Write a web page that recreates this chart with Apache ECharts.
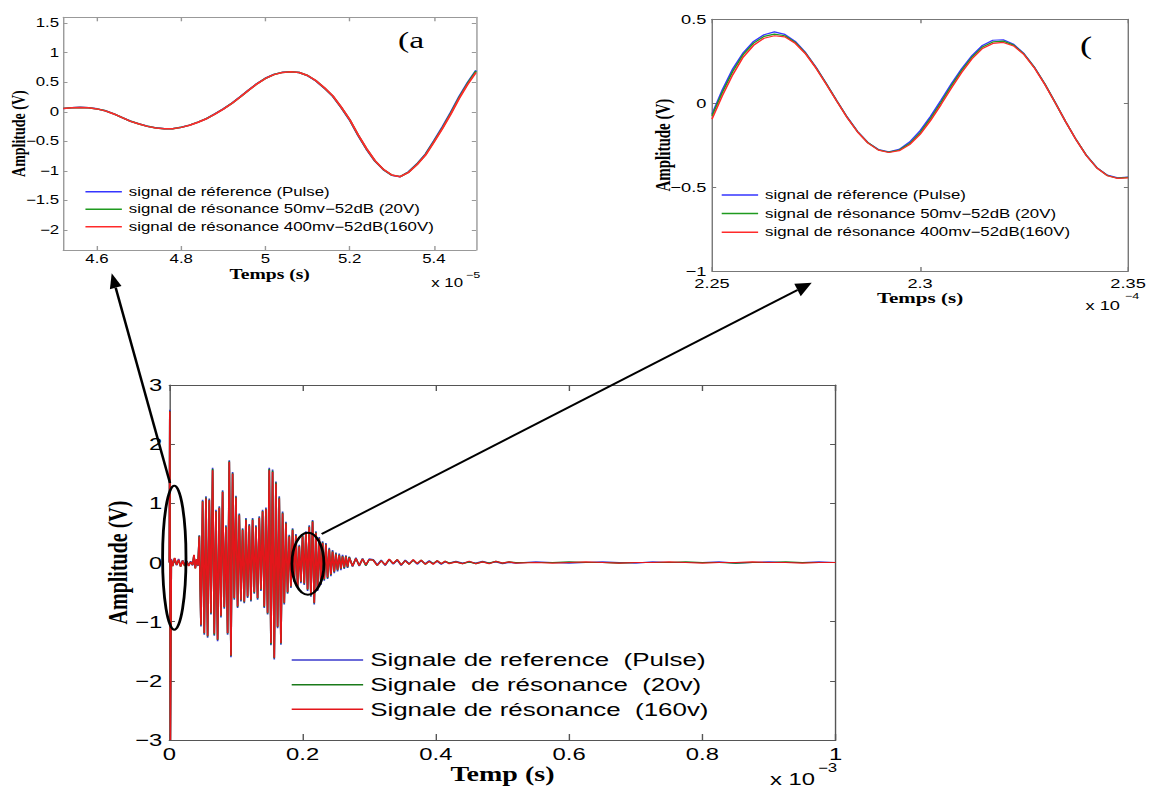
<!DOCTYPE html>
<html><head><meta charset="utf-8">
<script src="https://cdn.jsdelivr.net/npm/echarts@6/dist/echarts.min.js"></script>
<style>
html,body{margin:0;padding:0;background:#fff;overflow:hidden;}
#wrap{width:1150px;height:789px;overflow:hidden;position:relative;}
#chart{width:821px;height:789px;transform:scaleX(1.40073);transform-origin:0 0;}
</style></head>
<body><div id="wrap"><div id="chart"></div></div>
<script>
// ---------- Panel (a): zoom 4.52e-5 .. 5.5e-5 s (units of 1e-5 s) ----------
const timeA = [4.52,4.54,4.56,4.58,4.60,4.62,4.64,4.66,4.68,4.70,
  4.72,4.74,4.76,4.78,4.80,4.82,4.84,4.86,4.88,4.90,
  4.92,4.94,4.96,4.98,5.00,5.02,5.04,5.06,5.08,5.10,
  5.12,5.14,5.16,5.18,5.20,5.22,5.24,5.26,5.28,5.30,
  5.32,5.34,5.36,5.38,5.40,5.42,5.44,5.46,5.48,5.50];
const pulseA = [0.056,0.068,0.075,0.068,0.050,0.018,-0.035,-0.098,-0.160,-0.205,
  -0.245,-0.272,-0.287,-0.285,-0.262,-0.225,-0.175,-0.115,-0.035,0.050,
  0.145,0.255,0.370,0.478,0.568,0.633,0.668,0.680,0.665,0.612,
  0.522,0.400,0.262,0.070,-0.140,-0.400,-0.635,-0.835,-0.980,-1.075,
  -1.100,-1.015,-0.880,-0.715,-0.490,-0.260,-0.010,0.260,0.495,0.700];
const res20A = [0.058,0.069,0.074,0.067,0.049,0.017,-0.036,-0.099,-0.161,-0.206,
  -0.246,-0.273,-0.288,-0.286,-0.263,-0.226,-0.176,-0.117,-0.037,0.047,
  0.142,0.252,0.366,0.475,0.565,0.631,0.667,0.679,0.666,0.614,
  0.525,0.404,0.266,0.075,-0.134,-0.393,-0.628,-0.830,-0.976,-1.072,
  -1.098,-1.020,-0.888,-0.725,-0.502,-0.274,-0.026,0.243,0.480,0.688];
const res160A = [0.055,0.067,0.074,0.067,0.049,0.016,-0.037,-0.100,-0.162,-0.207,
  -0.247,-0.274,-0.289,-0.287,-0.264,-0.227,-0.177,-0.118,-0.039,0.045,
  0.140,0.250,0.364,0.473,0.564,0.630,0.666,0.678,0.666,0.615,
  0.527,0.406,0.269,0.079,-0.130,-0.389,-0.624,-0.827,-0.974,-1.071,
  -1.099,-1.025,-0.895,-0.735,-0.515,-0.288,-0.042,0.225,0.462,0.665];
const xTicksA = [4.6,4.8,5,5.2,5.4];
const yTicksA = [-2,-1.5,-1,-0.5,0,0.5,1,1.5];

// ---------- Panel (b): zoom 2.25e-4 .. 2.35e-4 s (units of 1e-4 s) ----------
const timeB = [2.25,2.2525,2.255,2.2575,2.26,2.2625,2.265,2.2675,2.27,2.2725,
  2.275,2.2775,2.28,2.2825,2.285,2.2875,2.29,2.2925,2.295,2.2975,
  2.30,2.3025,2.305,2.3075,2.31,2.3125,2.315,2.3175,2.32,2.3225,
  2.325,2.3275,2.33,2.3325,2.335,2.3375,2.34,2.3425,2.345,2.3475,2.35];
const pulseB = [-0.065,0.080,0.205,0.300,0.368,0.408,0.425,0.410,0.368,0.301,
  0.214,0.116,0.015,-0.083,-0.169,-0.235,-0.276,-0.290,-0.275,-0.231,
  -0.165,-0.080,0.016,0.114,0.205,0.284,0.344,0.375,0.378,0.351,
  0.295,0.214,0.115,0.004,-0.110,-0.217,-0.311,-0.384,-0.429,-0.445,-0.440];
const res20B = [-0.075,0.065,0.190,0.290,0.358,0.398,0.412,0.402,0.362,0.297,
  0.211,0.114,0.013,-0.085,-0.170,-0.236,-0.278,-0.292,-0.279,-0.240,
  -0.176,-0.092,0.003,0.102,0.195,0.275,0.335,0.365,0.370,0.346,
  0.292,0.212,0.114,0.003,-0.110,-0.217,-0.312,-0.385,-0.431,-0.447,-0.442];
const res160B = [-0.095,0.045,0.170,0.275,0.345,0.387,0.402,0.395,0.357,0.294,
  0.209,0.112,0.011,-0.087,-0.172,-0.238,-0.280,-0.294,-0.283,-0.247,
  -0.186,-0.104,-0.010,0.089,0.183,0.265,0.326,0.356,0.362,0.341,
  0.289,0.210,0.112,0.002,-0.111,-0.218,-0.313,-0.386,-0.432,-0.448,-0.445];
const xTicksB = [2.25,2.3,2.35];

// ---------- Main panel: 0 .. 1e-3 s (units of 1e-3 s) ----------
const timeM = [0,0.0008,0.0016,0.003,0.005,0.008,0.011,0.014,0.017,0.020,
  0.023,0.026,0.029,0.032,0.035,0.037,0.039,0.041,0.043,
  0.045,0.0475,0.05,0.0525,0.055,0.0575,0.06,0.0625,0.065,0.0675,
  0.07,0.0725,0.075,0.0775,0.08,0.0825,0.085,0.0875,0.09,0.0925,
  0.095,0.0975,0.1,0.1025,0.105,0.1075,0.11,0.1125,0.115,0.1175,
  0.12,0.1225,0.125,0.1275,0.13,0.1325,0.135,0.1375,0.14,0.1425,
  0.145,0.1475,0.15,0.1525,0.155,0.1575,0.16,0.1625,0.165,0.1675,
  0.17,0.1725,0.175,0.1775,0.18,0.1825,0.185,0.1875,0.19,0.1925,
  0.195,0.1975,0.2,0.2025,0.205,0.2075,0.21,0.2125,0.215,0.2175,
  0.22,0.2225,0.225,0.2275,0.23,0.2325,0.235,0.2375,0.24,0.2425,
  0.245,0.2475,0.25,0.2525,0.255,0.2575,0.26,0.2625,0.265,0.2675,
  0.27,
  0.275,0.28,0.285,0.29,0.295,0.30,
  0.306,0.312,0.318,0.324,0.33,0.336,0.342,0.348,0.354,0.36,
  0.366,0.372,0.378,0.384,0.39,0.396,0.402,0.408,0.414,0.42,
  0.43,0.44,0.45,0.46,0.47,0.48,0.49,0.50,0.51,0.52,
  0.55,0.575,0.6,0.625,0.65,0.675,0.7,0.725,0.75,0.775,
  0.8,0.825,0.85,0.875,0.9,0.925,0.95,0.975,1.0];
const pulseM = [0,2.58,-3.0,0.06,-0.05,0.07,-0.05,0.06,-0.06,0.04,
  -0.04,0.03,-0.05,0.02,-0.05,0.12,-0.09,0.05,-0.06,
  0.46,-1.08,1.06,-1.22,1.12,-1.27,1.08,-0.88,1.60,-1.24,
  0.89,-1.33,0.95,-0.93,1.22,-0.78,0.63,-1.22,1.73,-1.60,
  1.53,-0.63,1.13,-0.77,0.83,-0.66,0.58,-0.69,0.75,-0.60,
  0.65,-0.66,0.75,-0.53,0.63,-0.63,0.78,-0.48,0.89,-0.77,
  0.93,-0.88,1.60,-1.40,1.57,-1.64,1.37,-1.11,1.12,-1.39,
  0.86,-0.71,0.69,-0.53,0.47,-0.43,0.58,-0.33,0.48,-0.43,
  0.30,-0.35,0.47,-0.38,0.53,-0.48,0.63,-0.58,0.72,-0.71,
  0.53,-0.48,0.43,-0.38,0.36,-0.31,0.33,-0.28,0.25,-0.23,
  0.21,-0.18,0.17,-0.15,0.15,-0.13,0.13,-0.11,0.12,-0.09,
  0.10,
  -0.07,0.08,-0.06,0.07,-0.05,0.06,
  0.05,-0.04,0.04,-0.05,0.05,-0.03,0.04,-0.05,0.04,-0.02,
  0.04,-0.03,0.03,-0.02,0.03,-0.02,0.02,-0.03,0.01,-0.01,
  0.02,-0.01,0.01,-0.01,0.02,-0.01,0.01,-0.02,0.00,-0.01,
  0.01,0.00,-0.01,0.00,0.01,0.00,-0.01,0.01,0.00,0.00,
  0.00,0.01,-0.01,0.00,0.01,0.00,0.00,0.01,0.00];
const res20M = [0,2.56,-3.0,0.04,-0.06,0.07,-0.04,0.04,-0.07,0.03,
  -0.06,0.02,-0.05,0.01,-0.04,0.12,-0.10,0.05,-0.05,
  0.45,-1.06,1.04,-1.20,1.10,-1.25,1.06,-0.86,1.58,-1.22,
  0.87,-1.31,0.93,-0.91,1.20,-0.76,0.61,-1.20,1.71,-1.58,
  1.51,-0.61,1.11,-0.75,0.81,-0.64,0.56,-0.67,0.73,-0.58,
  0.63,-0.64,0.73,-0.51,0.61,-0.61,0.76,-0.46,0.87,-0.75,
  0.91,-0.86,1.58,-1.38,1.55,-1.62,1.35,-1.09,1.10,-1.37,
  0.84,-0.69,0.67,-0.51,0.45,-0.41,0.56,-0.31,0.46,-0.41,
  0.28,-0.33,0.45,-0.36,0.51,-0.46,0.61,-0.56,0.70,-0.69,
  0.51,-0.46,0.41,-0.36,0.34,-0.29,0.31,-0.26,0.23,-0.21,
  0.19,-0.16,0.15,-0.13,0.13,-0.11,0.11,-0.09,0.11,-0.08,
  0.09,
  -0.06,0.07,-0.05,0.06,-0.05,0.05,
  0.04,-0.05,0.03,-0.04,0.05,-0.02,0.05,-0.04,0.03,-0.03,
  0.04,-0.02,0.04,-0.03,0.02,-0.02,0.03,-0.02,0.02,-0.01,
  0.01,-0.02,0.01,-0.02,0.01,-0.01,0.02,-0.01,0.01,0.00,
  0.00,0.00,0.01,0.00,0.00,-0.01,0.00,0.00,0.00,0.01,
  0.00,0.00,-0.01,0.00,0.00,0.01,0.00,0.00,0.00];
const res160M = [0,2.55,-3.0,0.05,-0.06,0.08,-0.04,0.05,-0.07,0.03,
  -0.05,0.02,-0.06,0.01,-0.04,0.13,-0.10,0.06,-0.05,
  0.44,-1.05,1.03,-1.19,1.08,-1.24,1.05,-0.85,1.56,-1.20,
  0.86,-1.30,0.92,-0.90,1.19,-0.75,0.60,-1.19,1.70,-1.57,
  1.50,-0.60,1.10,-0.74,0.80,-0.63,0.55,-0.66,0.72,-0.57,
  0.62,-0.63,0.72,-0.50,0.60,-0.60,0.75,-0.45,0.86,-0.74,
  0.90,-0.85,1.56,-1.36,1.53,-1.61,1.33,-1.08,1.08,-1.36,
  0.83,-0.68,0.66,-0.50,0.44,-0.40,0.55,-0.30,0.45,-0.40,
  0.27,-0.32,0.44,-0.35,0.50,-0.45,0.60,-0.55,0.69,-0.68,
  0.50,-0.45,0.40,-0.35,0.33,-0.28,0.30,-0.25,0.22,-0.20,
  0.18,-0.15,0.14,-0.12,0.12,-0.10,0.10,-0.08,0.10,-0.07,
  0.08,
  -0.06,0.07,-0.05,0.06,-0.04,0.05,
  0.04,-0.05,0.03,-0.04,0.06,-0.02,0.05,-0.04,0.03,-0.03,
  0.05,-0.02,0.04,-0.03,0.02,-0.03,0.03,-0.02,0.02,-0.02,
  0.01,-0.02,0.02,-0.02,0.01,-0.02,0.02,-0.01,0.01,-0.01,
  0.00,-0.01,0.00,0.01,0.00,-0.01,0.00,0.00,0.01,0.00,
  -0.01,0.00,0.00,0.01,0.00,0.00,-0.01,0.00,0.00];

const namesTop = ['signal de réference (Pulse)', 'signal de résonance 50mv\u221252dB (20V)', 'signal de résonance 400mv\u221252dB(160V)'];
const namesMain = ['Signale de reference\u00a0 (Pulse)', 'Signale\u00a0 de résonance\u00a0 (20v)', 'Signale de résonance\u00a0 (160v)'];

// ---------- layout helpers ----------
const SX = 1150 / 821;           // horizontal stretch of the figure
const X = v => v / SX;           // reference pixel x -> chart x
const zip = (t, v) => t.map((x, i) => [x, v[i]]);
const fmt = v => String(+v.toFixed(4)).replace('-', '\u2212');
const SANS = 'Liberation Sans', SERIF = 'Liberation Serif';

function xAxes(gi, min, max, ticks, interval, color, fs, margin, tickLen, name, nameGap, nameFs) {
  const base = { gridIndex: gi, type: 'value', min, max, splitLine: { show: false },
    axisLine: { show: true, onZero: false, lineStyle: { color, width: 1 } } };
  if (interval) base.interval = interval;
  const tick = { show: true, inside: true, length: tickLen, lineStyle: { color } };
  if (ticks) tick.customValues = ticks;
  const lab = { show: true, fontSize: fs, fontFamily: SANS, color: '#000', margin, formatter: fmt };
  if (ticks) lab.customValues = ticks;
  return [
    Object.assign({}, base, { position: 'bottom', axisTick: tick, axisLabel: lab,
      name, nameLocation: 'middle', nameGap,
      nameTextStyle: { fontFamily: SERIF, fontWeight: 'bold', fontSize: nameFs, color: '#000' } }),
    Object.assign({}, base, { position: 'top', axisTick: tick, axisLabel: { show: false } })
  ];
}
function yAxes(gi, min, max, ticks, interval, color, fs, margin, tickLen, name, nameGap, nameFs) {
  const base = { gridIndex: gi, type: 'value', min, max, splitLine: { show: false },
    axisLine: { show: true, onZero: false, lineStyle: { color, width: 1 } } };
  if (interval) base.interval = interval;
  const tick = { show: true, inside: true, length: tickLen, lineStyle: { color } };
  if (ticks) tick.customValues = ticks;
  const lab = { show: true, fontSize: fs, fontFamily: SANS, color: '#000', margin, formatter: fmt };
  if (ticks) lab.customValues = ticks;
  return [
    Object.assign({}, base, { position: 'left', axisTick: tick, axisLabel: lab,
      name, nameLocation: 'middle', nameGap, nameMoveOverlap: false,
      nameTextStyle: { fontFamily: SERIF, fontWeight: 'bold', fontSize: nameFs, color: '#000' } }),
    Object.assign({}, base, { position: 'right', axisTick: tick, axisLabel: { show: false } })
  ];
}

const colTop = ['#3535ff', '#1f9a1f', '#ff2a2a'];
const colMain = ['#3a3acc', '#1a7a1a', '#e3161b'];

function lineSeries(name, xi, data, color, w) {
  return { type: 'line', name, xAxisIndex: xi, yAxisIndex: xi, data, symbol: 'none',
    showSymbol: false, smooth: false, clip: true, animation: false,
    lineStyle: { color, width: w }, itemStyle: { color }, emphasis: { disabled: true } };
}

const option = {
  backgroundColor: '#fff',
  animation: false,
  grid: [
    { left: X(63.3), top: 17.3, width: X(476 - 63.3), height: 232.7 },
    { left: X(712), top: 19.3, width: X(1136.7 - 712), height: 251.7 },
    { left: X(169.3), top: 385, width: X(835.7 - 169.3), height: 355 }
  ],
  xAxis: [
    ...xAxes(0, 4.52, 5.5, xTicksA, null, '#999', 12, 3, 4, 'Temps (s)', 17, 14),
    ...xAxes(1, 2.25, 2.35, xTicksB, null, '#777', 13, 6, 4, 'Temps (s)', 18, 15),
    ...xAxes(2, 0, 1, null, 0.2, '#555', 17, 5, 6, 'Temp (s)', 24, 20)
  ],
  yAxis: [
    ...yAxes(0, -2.34, 1.6, yTicksA, null, '#999', 12, 3, 3, 'Amplitude (V)', 25, 14),
    ...yAxes(1, -1, 0.5, null, 0.5, '#777', 13, 4, 3, 'Amplitude (V)', 27.5, 15),
    ...yAxes(2, -3, 3, null, 1, '#555', 17, 5, 4, 'Amplitude (V)', 27, 20)
  ],
  legend: [
    { data: namesTop, orient: 'vertical', left: 61, top: 183, padding: 0, itemGap: 0,
      itemWidth: 26, itemHeight: 1.5, icon: 'rect', selectedMode: false,
      itemStyle: { borderWidth: 0 },
      textStyle: { fontFamily: SANS, fontSize: 12, lineHeight: 17.5, color: '#000' } },
    { data: namesTop, orient: 'vertical', left: X(721.7), top: 185.7, padding: 0, itemGap: 0,
      itemWidth: 26, itemHeight: 1.5, icon: 'rect', selectedMode: false,
      itemStyle: { borderWidth: 0 },
      textStyle: { fontFamily: SANS, fontSize: 12, lineHeight: 18.6, color: '#000' } },
    { data: namesMain, orient: 'vertical', left: X(291.7), top: 647.6, padding: 0, itemGap: 0,
      itemWidth: 51, itemHeight: 1.5, icon: 'rect', selectedMode: false,
      itemStyle: { borderWidth: 0 },
      textStyle: { fontFamily: SANS, fontSize: 18.5, lineHeight: 24.7, color: '#000' } }
  ],
  series: [
    lineSeries(namesTop[0], 0, zip(timeA, pulseA), colTop[0], 1.5),
    lineSeries(namesTop[1], 0, zip(timeA, res20A), colTop[1], 1.5),
    lineSeries(namesTop[2], 0, zip(timeA, res160A), colTop[2], 1.5),
    lineSeries(namesTop[0], 2, zip(timeB, pulseB), colTop[0], 1.2),
    lineSeries(namesTop[1], 2, zip(timeB, res20B), colTop[1], 1.2),
    lineSeries(namesTop[2], 2, zip(timeB, res160B), colTop[2], 1.2),
    lineSeries(namesMain[0], 4, zip(timeM, pulseM), colMain[0], 1.2),
    lineSeries(namesMain[1], 4, zip(timeM, res20M), colMain[1], 1.2),
    lineSeries(namesMain[2], 4, zip(timeM, res160M), colMain[2], 1.2)
  ]
};

const chart = echarts.init(document.getElementById('chart'), null, { renderer: 'svg' });
chart.setOption(option);

// annotations: ellipses anchored on data regions, arrows to zoom panels
const eL = chart.convertToPixel({ xAxisIndex: 4, yAxisIndex: 4 }, [0.0075, 0.08]);
const eR = chart.convertToPixel({ xAxisIndex: 4, yAxisIndex: 4 }, [0.208, -0.02]);
const txt = (x, y, text, font, align) => ({ type: 'text', x, y, z: 100,
  style: { text, font, fill: '#000', align: align || 'left', verticalAlign: 'middle' } });
chart.setOption({
  graphic: [
    { type: 'ellipse', z: 100, shape: { cx: eL[0], cy: eL[1], rx: X(11.7), ry: 72 },
      style: { fill: 'none', stroke: '#000', lineWidth: 2 } },
    { type: 'ellipse', z: 100, shape: { cx: eR[0], cy: eR[1], rx: X(16), ry: 31 },
      style: { fill: 'none', stroke: '#000', lineWidth: 2 } },
    { type: 'line', z: 100, shape: { x1: X(170), y1: 483, x2: X(115.7), y2: 287.7 },
      style: { stroke: '#000', lineWidth: 1.8 } },
    { type: 'polygon', z: 100, shape: { points: [[X(111.7), 273.3], [X(121.5), 286.1], [X(109.9), 289.3]] },
      style: { fill: '#000' } },
    { type: 'line', z: 100, shape: { x1: X(321.7), y1: 534, x2: X(797.5), y2: 290 },
      style: { stroke: '#000', lineWidth: 1.8 } },
    { type: 'polygon', z: 100, shape: { points: [[X(811.7), 282.7], [X(794.3), 283.8], [X(800.7), 296.2]] },
      style: { fill: '#000' } },
    txt(X(463), 283, 'x 10', '12px "Liberation Sans"', 'right'),
    txt(X(466), 275, '\u22125', '9px "Liberation Sans"'),
    txt(X(1120), 305, 'x 10', '13px "Liberation Sans"', 'right'),
    txt(X(1125), 296, '\u22124', '9px "Liberation Sans"'),
    txt(X(815), 779, 'x 10', '17px "Liberation Sans"', 'right'),
    txt(X(818), 768, '\u22123', '12px "Liberation Sans"'),
    txt(X(398), 40, '(a', '24px "Liberation Serif"'),
    txt(X(1080), 45, '(', '26px "Liberation Serif"')
  ]
});
</script>
</body></html>
